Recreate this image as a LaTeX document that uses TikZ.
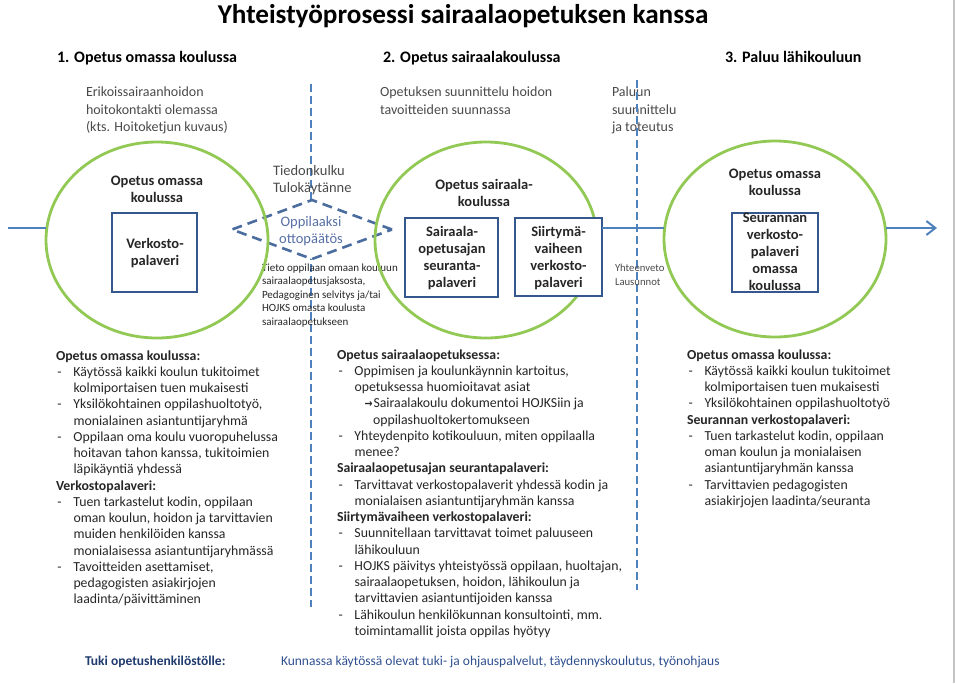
\documentclass[tikz,border=0pt]{standalone}
\usepackage{fontspec}
\usepackage{graphicx}
\setmainfont{Carlito}
\newfontfamily\dejavu{DejaVu Sans}
\usetikzlibrary{arrows.meta,shapes.geometric}
\definecolor{procblue}{HTML}{4F81BD}
\definecolor{boxblue}{HTML}{34578E}
\definecolor{circgreen}{HTML}{92C954}
\definecolor{diamblue}{HTML}{4B6C9E}
\definecolor{diamtext}{HTML}{5870A6}
\definecolor{graytext}{HTML}{4A4A4A}
\definecolor{bodytext}{HTML}{262626}
\definecolor{navybold}{HTML}{1F3A6E}
\definecolor{navytext}{HTML}{2F4F8F}
\definecolor{framegray}{HTML}{C4C4C4}
\newcommand{\dsh}{\makebox[17.5pt][l]{\hspace{1.5pt}-}}
\newcommand{\ind}{\hspace*{17.5pt}}
\newcommand{\fs}[2]{\fontsize{#1}{#2}\selectfont}
\newcommand{\arr}{\makebox[9pt][l]{\resizebox{8pt}{6pt}{\dejavu\bfseries →}}}
\begin{document}
\begin{tikzpicture}[x=1pt,y=-1pt,
  every node/.style={inner sep=0pt, outer sep=0pt},
  circ/.style={ellipse, draw=circgreen, line width=2.8pt, minimum width=222pt, minimum height=196pt},
  pbox/.style={rectangle, draw=boxblue, fill=white, line width=2.8pt},
  boxtxt/.style={align=center, font=\fs{14.5}{17}\bfseries, text=black!85},
  hdr/.style={anchor=base west, font=\fs{16}{19}\bfseries, text=black},
  intro/.style={anchor=north west, align=left, font=\fs{14}{17.5}, text=graytext},
  blk/.style={anchor=north west, align=left, font=\fs{13.8}{16.25}, text=bodytext},
  mainln/.style={draw=procblue, line width=2pt},
  vdash/.style={draw=procblue, line width=1.5pt, dash pattern=on 8pt off 4pt},
  diam/.style={diamond, draw=diamblue, fill=white, line width=2.6pt, dash pattern=on 10pt off 6pt, minimum width=160pt, minimum height=59pt}
]
\useasboundingbox (0,0) rectangle (955,683);

% title and headers
\node[anchor=base, font=\fs{27.2}{30}\bfseries, text=black] (title) at (463,23) {Yhteistyöprosessi sairaalaopetuksen kanssa};
\node[hdr] (h1) at (57,62) {1. Opetus omassa koulussa};
\node[hdr] (h2) at (383,62) {2. Opetus sairaalakoulussa};
\node[hdr] (h3) at (725,62) {3. Paluu lähikouluun};

\node[intro] (i1) at (86,87) {Erikoissairaanhoidon\\hoitokontakti olemassa\\(kts. Hoitoketjun kuvaus)};
\node[intro] (i2) at (380,87) {Opetuksen suunnittelu hoidon\\tavoitteiden suunnassa};
\node[intro] (i3) at (612,87) {Paluun\\suunnittelu\\ja toteutus};

% vertical dashed dividers
\coordinate (v1a) at (311,84);
\coordinate (v1b) at (311,607);
\coordinate (v2a) at (637,80);
\coordinate (v2b) at (637,590);
\draw[vdash] (v1a) -- (v1b);
\draw[vdash] (v2a) -- (v2b);

% side texts
\node[anchor=north west, align=left, font=\fs{14.5}{17}, text=graytext] (tied) at (273,165.5) {Tiedonkulku\\Tulokäytänne};
\node[anchor=north west, align=left, font=\fs{11}{13.5}, text=bodytext] (tieto) at (262,263.5) {Tieto oppilaan omaan kouluun\\sairaalaopetusjaksosta,\\Pedagoginen selvitys ja/tai\\HOJKS omasta koulusta\\sairaalaopetukseen};
\node[anchor=north west, align=left, font=\fs{10.7}{14}, text=graytext] (yht) at (615,264) {Yhteenveto\\Lausunnot};

% diamond
\node[diam] (dm) at (312,229.5) {};
\node[font=\fs{14.5}{16.5}, text=diamtext, align=center] (dmt) at (311,231) {Oppilaaksi\\ottopäätös};

% circles
\node[circ] (c1) at (157,240) {};
\node[circ] (c2) at (486,240) {};
\node[circ] (c3) at (775,239) {};

% process line
\coordinate (start) at (8,228);
\coordinate (end) at (937,228);

% boxes
\node[pbox, minimum width=85pt, minimum height=79pt] (b1) at (154.5,252.5) {};
\node[pbox, minimum width=93pt, minimum height=79pt] (b2a) at (451.5,257.5) {};
\node[pbox, minimum width=87pt, minimum height=78pt] (b2b) at (558.5,257) {};
\node[pbox, minimum width=86pt, minimum height=79pt] (b3) at (775,252.5) {};

\draw[mainln] (start) -- (start -| c1.west);
\draw[mainln] (b2b.east |- start) -- (start -| c3.west);
\draw[mainln, -{Straight Barb[length=9pt,width=14pt]}] (start -| c3.east) -- (end);

% circle labels
\node[boxtxt] (ct1) at (157,189.3) {Opetus omassa\\koulussa};
\node[boxtxt] (ct2) at (484,193.3) {Opetus sairaala-\\koulussa};
\node[boxtxt] (ct3) at (775,182.3) {Opetus omassa\\koulussa};

% box labels
\node[boxtxt] (b1t) at (155,253) {Verkosto-\\palaveri};
\node[boxtxt] (b2at) at (452,258.2) {Sairaala-\\opetusajan\\seuranta-\\palaveri};
\node[boxtxt] (b2bt) at (558.5,257.7) {Siirtymä-\\vaiheen\\verkosto-\\palaveri};
\node[boxtxt] (b3t) at (775,251.3) {Seurannan\\verkosto-\\palaveri\\omassa\\koulussa};

% text blocks
\node[blk] (blk1) at (56,350.5) {{\bfseries Opetus omassa koulussa:}\\
\dsh Käytössä kaikki koulun tukitoimet\\
\ind kolmiportaisen tuen mukaisesti\\
\dsh Yksilökohtainen oppilashuoltotyö,\\
\ind monialainen asiantuntijaryhmä\\
\dsh Oppilaan oma koulu vuoropuhelussa\\
\ind hoitavan tahon kanssa, tukitoimien\\
\ind läpikäyntiä yhdessä\\
{\bfseries Verkostopalaveri:}\\
\dsh Tuen tarkastelut kodin, oppilaan\\
\ind oman koulun, hoidon ja tarvittavien\\
\ind muiden henkilöiden kanssa\\
\ind monialaisessa asiantuntijaryhmässä\\
\dsh Tavoitteiden asettamiset,\\
\ind pedagogisten asiakirjojen\\
\ind laadinta/päivittäminen};

\node[blk] (blk2) at (337,349.5) {{\bfseries Opetus sairaalaopetuksessa:}\\
\dsh Oppimisen ja koulunkäynnin kartoitus,\\
\ind opetuksessa huomioitavat asiat\\
\ind\hspace*{10pt}\arr Sairaalakoulu dokumentoi HOJKSiin ja\\
\ind\hspace*{18.5pt}oppilashuoltokertomukseen\\
\dsh Yhteydenpito kotikouluun, miten oppilaalla\\
\ind menee?\\
{\bfseries Sairaalaopetusajan seurantapalaveri:}\\
\dsh Tarvittavat verkostopalaverit yhdessä kodin ja\\
\ind monialaisen asiantuntijaryhmän kanssa\\
{\bfseries Siirtymävaiheen verkostopalaveri:}\\
\dsh Suunnitellaan tarvittavat toimet paluuseen\\
\ind lähikouluun\\
\dsh HOJKS päivitys yhteistyössä oppilaan, huoltajan,\\
\ind sairaalaopetuksen, hoidon, lähikoulun ja\\
\ind tarvittavien asiantuntijoiden kanssa\\
\dsh Lähikoulun henkilökunnan konsultointi, mm.\\
\ind toimintamallit joista oppilas hyötyy};

\node[blk] (blk3) at (687,349.5) {{\bfseries Opetus omassa koulussa:}\\
\dsh Käytössä kaikki koulun tukitoimet\\
\ind kolmiportaisen tuen mukaisesti\\
\dsh Yksilökohtainen oppilashuoltotyö\\
{\bfseries Seurannan verkostopalaveri:}\\
\dsh Tuen tarkastelut kodin, oppilaan\\
\ind oman koulun ja monialaisen\\
\ind asiantuntijaryhmän kanssa\\
\dsh Tarvittavien pedagogisten\\
\ind asiakirjojen laadinta/seuranta};

% bottom line
\node[anchor=base west, font=\fs{13.5}{15}\bfseries, text=navybold] (tk) at (85,665) {Tuki opetushenkilöstölle:};
\node[anchor=base west, font=\fs{13.5}{15}, text=navytext] (tkt) at (281,665) {Kunnassa käytössä olevat tuki- ja ohjauspalvelut, täydennyskoulutus, työnohjaus};

% right frame edge
\coordinate (fr1) at (954,0);
\coordinate (fr2) at (954,683);
\draw[framegray, line width=1.2pt] (fr1) -- (fr2);
\end{tikzpicture}
\end{document}
